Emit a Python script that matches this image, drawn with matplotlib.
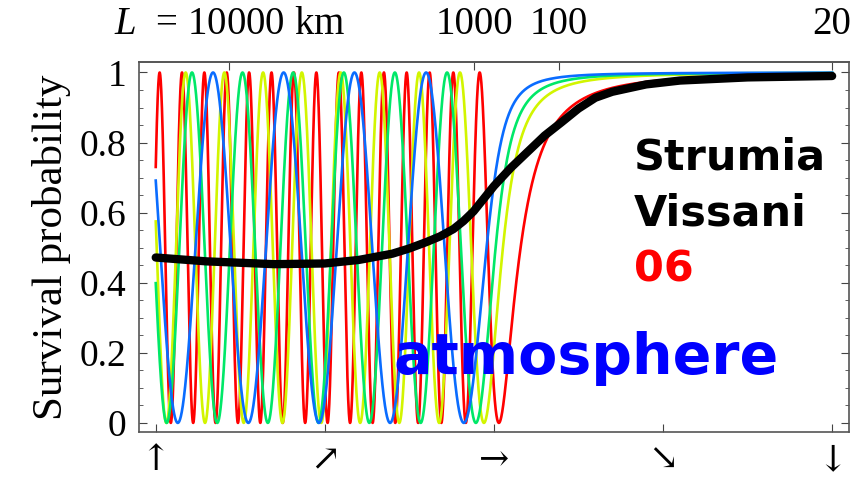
import numpy as np
import matplotlib
matplotlib.use('Agg')
import matplotlib.pyplot as plt

plt.rcParams['mathtext.fontset'] = 'custom'
plt.rcParams['mathtext.rm'] = 'Liberation Serif'
plt.rcParams['mathtext.it'] = 'Liberation Serif:italic'

# earth radius and production height (km), atmospheric mass splitting (eV^2)
R_earth = 6371.
h_prod = 20.
dm2 = 2.5e-3

# neutrino energies (GeV) of the four coloured curves
energies = [0.85, 1.47, 1.92, 2.68]
colors = ['#ff0000', '#d2f500', '#00e868', '#0a6cff']

# energy averaged survival probability (black)
avg_cos = [-1.0, -0.85, -0.65, -0.5, -0.4, -0.3, -0.25, -0.2, -0.16, -0.12, -0.09, -0.06,
           -0.03, 0.0, 0.05, 0.1, 0.15, 0.2, 0.25, 0.3, 0.35, 0.45, 0.55, 0.75, 1.0]
avg_prob = [0.472, 0.461, 0.453, 0.455, 0.465, 0.483, 0.498, 0.516, 0.532, 0.553, 0.576, 0.604,
            0.640, 0.676, 0.728, 0.774, 0.82, 0.858, 0.897, 0.928, 0.945, 0.966, 0.977, 0.986, 0.99]

top_L = [10000, 1000, 100, 20]
top_labels = [r'$L$  = 10000 km', '1000', '100', '20']
bottom_ticks = [-1, -0.5, 0, 0.5, 1]
bottom_labels = ['\u2191', '\u2197', '\u2192', '\u2198', '\u2193']
y_ticks = [0, 0.2, 0.4, 0.6, 0.8, 1]
y_labels = ['0', '0.2', '0.4', '0.6', '0.8', '1']


def baseline(c):  # path length through the earth for cos(zenith) c
    return np.sqrt((R_earth * c) ** 2 + 2 * R_earth * h_prod + h_prod ** 2) - R_earth * c


def cos_of(L):
    L = np.asarray(L, dtype=float)
    return (2 * R_earth * h_prod + h_prod ** 2 - L ** 2) / (2 * R_earth * L)


W, H = 857., 479.
fig = plt.figure(figsize=(W / 100, H / 100), dpi=100)
ax = fig.add_axes([0.162, 0.0981, 0.8287, 0.7725])

c = np.linspace(-1, 1, 6000)
L = baseline(c)
for E, col in zip(energies, colors):
    P = 1 - np.sin(1.27 * dm2 * L / E) ** 2
    ax.plot(c, P, color=col, lw=1.9)
ax.plot(avg_cos, avg_prob, color='k', lw=6, solid_capstyle='round', solid_joinstyle='round')

ax.set_xlim(-1.05, 1.05)
ax.set_ylim(-0.026, 1.03)

serif = ['Liberation Serif', 'DejaVu Serif']
ax.set_yticks(y_ticks)
ax.set_yticklabels(y_labels, family=serif, fontsize=27)
ax.set_yticks(np.arange(0, 1.001, 0.05), minor=True)
ax.set_xticks(bottom_ticks)
ax.set_xticklabels(bottom_labels, family=['DejaVu Serif'], fontsize=26)
ax.tick_params(axis='y', which='both', direction='in', right=True, pad=9, color='#444444')
ax.tick_params(axis='y', which='major', length=6)
ax.tick_params(axis='y', which='minor', length=3)
ax.tick_params(axis='x', direction='in', length=6, pad=8, color='#444444')
ax.set_ylabel('Survival probability', family=serif, fontsize=31, labelpad=6)

top = ax.secondary_xaxis('top')
top.set_xticks(cos_of(top_L))
top.set_xticklabels(top_labels, family=serif, fontsize=28)
top.tick_params(direction='in', length=6, pad=14, color='#444444')
for sp in list(ax.spines.values()) + list(top.spines.values()):
    sp.set_color('#555555')
    sp.set_linewidth(1.2)

fig.text(634 / W, 1 - 170 / H, 'Strumia', fontsize=31, fontweight='bold', color='k', va='baseline')
fig.text(634 / W, 1 - 225 / H, 'Vissani', fontsize=31, fontweight='bold', color='k', va='baseline')
fig.text(634 / W, 1 - 282 / H, '06', fontsize=31, fontweight='bold', color='#ff0000', va='baseline')
fig.text(393 / W, 1 - 374 / H, 'atmosphere', fontsize=41, fontweight='bold', color='#0000ff',
         va='baseline')

fig.savefig('out.png', dpi=100)
